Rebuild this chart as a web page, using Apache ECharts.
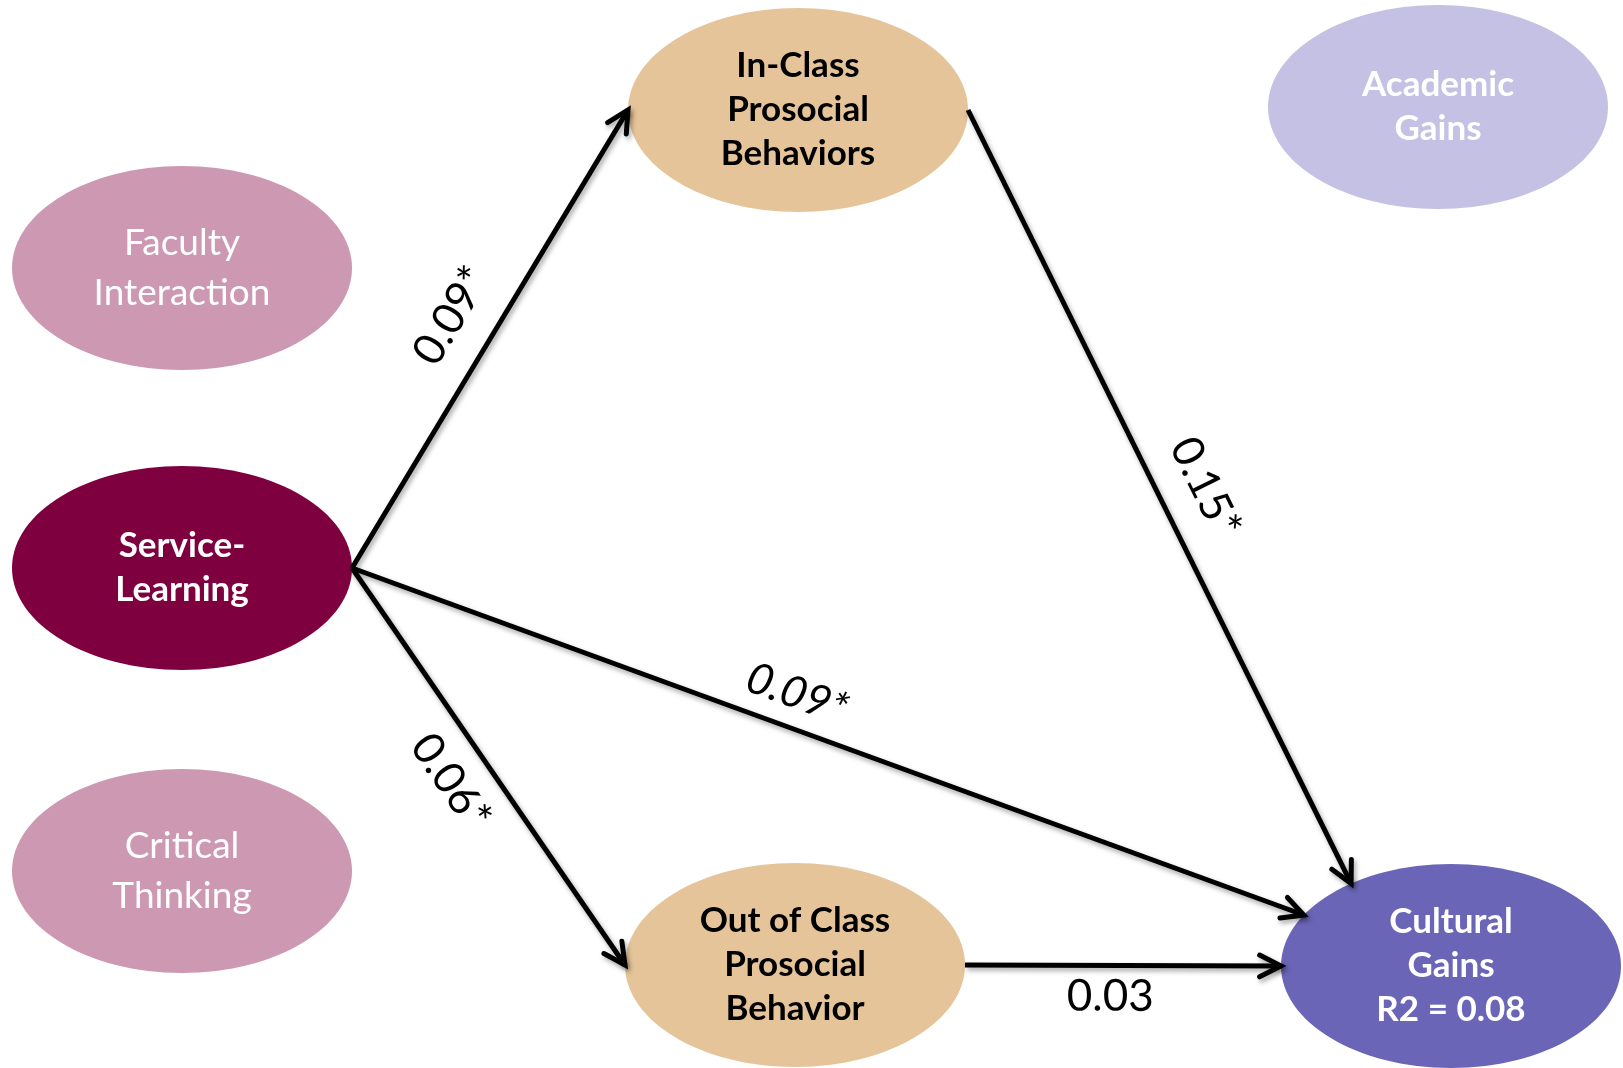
<!DOCTYPE html>
<html><head><meta charset="utf-8">
<script src="https://cdn.jsdelivr.net/npm/echarts@6/dist/echarts.min.js"></script>
<style>html,body{margin:0;padding:0;background:#fff}#chart{width:1623px;height:1068px}</style>
</head><body><div id="chart"></div>
<script>
// ---- data ----
const nodeNames = ['Faculty\nInteraction', 'Service-\nLearning', 'Critical\nThinking',
  'In-Class\nProsocial\nBehaviors', 'Out of Class\nProsocial\nBehavior', 'Academic\nGains',
  'Cultural\nGains\nR2 = 0.08'];
const nodeX = [182, 182, 182, 798, 795, 1438, 1451];
const nodeY = [268, 568, 871, 110, 965, 107, 966];
const pathFrom = [1, 3, 1, 1, 4];
const pathTo = [3, 6, 6, 4, 6];
const pathCoef = ['0.09*', '0.15*', '0.09*', '0.06*', '0.03'];

// ---- layout / styles ----
const RX = 170, RY = 102;
const targetAngle = [180, 234, 210, 180, 180];      // where the arrow meets the target ellipse
const labelFrac = [0.50, 0.514, 0.455, 0.482, 0.46];
const labelOff = [45, 45, 34, -40, -31];
const labelItalic = [false, false, true, false, false];
const nodeColor = ['#cc98b2', '#7f003e', '#cc98b2', '#e5c49a', '#e5c49a', '#c4c1e4', '#6a65b6'];
const nodeTextColor = ['#fff', '#fff', '#fff', '#000', '#000', '#fff', '#fff'];
const nodeBold = [false, true, false, true, true, true, true];
const FONT = 'Lato, "Open Sans", sans-serif';
const ELLIPSE = 'path://M100,50 C100,77.6 77.6,100 50,100 C22.4,100 0,77.6 0,50 C0,22.4 22.4,0 50,0 C77.6,0 100,22.4 100,50 Z';

const nodeData = nodeNames.map((n, i) => ({
  name: n, value: [nodeX[i], nodeY[i]],
  itemStyle: { color: nodeColor[i], opacity: 1 },
  label: {
    color: nodeTextColor[i], fontWeight: nodeBold[i] ? 'bold' : 'normal',
    fontSize: nodeBold[i] ? 35 : 37, lineHeight: nodeBold[i] ? 44 : 50
  }
}));

const shafts = [], heads = [], labels = [];
pathFrom.forEach((f, i) => {
  const t = pathTo[i];
  const s = [nodeX[f] + RX, nodeY[f]];
  const a = targetAngle[i] * Math.PI / 180;
  const e = [nodeX[t] + RX * Math.cos(a), nodeY[t] + RY * Math.sin(a)];
  const dx = e[0] - s[0], dy = e[1] - s[1], len = Math.hypot(dx, dy);
  const ux = dx / len, uy = dy / len;
  shafts.push({ coords: [s, e] });
  const L = 24, h = 27 * Math.PI / 180;
  const rot = (ang) => [-(ux * Math.cos(ang) - uy * Math.sin(ang)), -(ux * Math.sin(ang) + uy * Math.cos(ang))];
  const r1 = rot(h), r2 = rot(-h);
  heads.push({ coords: [[e[0] + L * r1[0], e[1] + L * r1[1]], e, [e[0] + L * r2[0], e[1] + L * r2[1]]] });
  let r = -Math.atan2(dy, dx);
  const upx = -Math.sin(r), upy = -Math.cos(r);
  labels.push({
    name: pathCoef[i],
    value: [s[0] + dx * labelFrac[i] + upx * labelOff[i], s[1] + dy * labelFrac[i] + upy * labelOff[i]],
    label: { rotate: r * 180 / Math.PI, fontStyle: labelItalic[i] ? 'italic' : 'normal' }
  });
});

const lineShadow = { shadowBlur: 5, shadowColor: 'rgba(0,0,0,0.35)', shadowOffsetX: 2, shadowOffsetY: 3 };

const chart = echarts.init(document.getElementById('chart'), null, { renderer: 'canvas' });
chart.setOption({
  animation: false,
  backgroundColor: '#fff',
  grid: { left: 0, right: 0, top: 0, bottom: 0 },
  xAxis: { type: 'value', min: 0, max: 1623, show: false },
  yAxis: { type: 'value', min: 0, max: 1068, inverse: true, show: false },
  series: [
    {
      type: 'scatter', symbol: ELLIPSE, symbolSize: [2 * RX, 2 * RY], z: 2, silent: true,
      itemStyle: { opacity: 1 },
      label: { show: true, position: 'inside', formatter: p => p.name, fontFamily: FONT },
      emphasis: { disabled: true },
      data: nodeData
    },
    {
      type: 'lines', coordinateSystem: 'cartesian2d', z: 3, silent: true, symbol: 'none',
      lineStyle: Object.assign({ color: '#000', width: 5, opacity: 1, cap: 'butt' }, lineShadow),
      data: shafts
    },
    {
      type: 'lines', coordinateSystem: 'cartesian2d', polyline: true, z: 3, silent: true, symbol: 'none',
      lineStyle: Object.assign({ color: '#000', width: 5, opacity: 1, cap: 'round', join: 'miter' }, lineShadow),
      data: heads
    },
    {
      type: 'scatter', symbolSize: 1, itemStyle: { color: 'rgba(0,0,0,0)', opacity: 1 }, z: 4, silent: true,
      label: { show: true, position: 'inside', formatter: p => p.name, fontFamily: FONT, fontSize: 44, color: '#000' },
      emphasis: { disabled: true },
      data: labels
    }
  ]
});
</script></body></html>
